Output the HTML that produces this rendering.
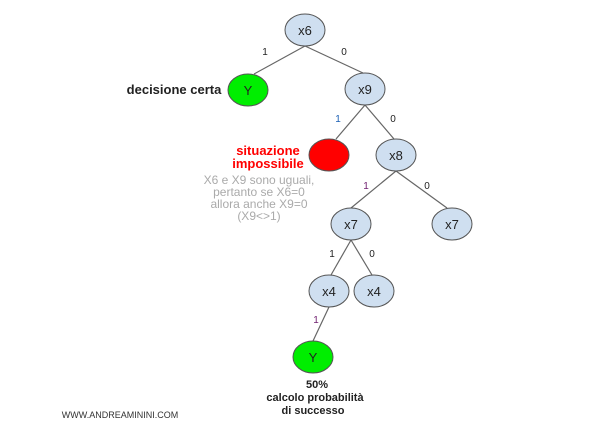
<!DOCTYPE html>
<html><head><meta charset="utf-8"><style>
html,body{margin:0;padding:0;background:#fff;}
svg{display:block;font-family:"Liberation Sans",Arial,sans-serif;}
</style></head><body>
<svg width="606" height="430" viewBox="0 0 606 430">
<g stroke="#666" stroke-width="1.2" fill="none">
<line x1="305" y1="46" x2="254" y2="74"/>
<line x1="305" y1="46" x2="363" y2="73"/>
<line x1="365" y1="105" x2="336" y2="139"/>
<line x1="365" y1="105" x2="394" y2="139"/>
<line x1="396" y1="171" x2="351" y2="208"/>
<line x1="396" y1="171" x2="447" y2="208"/>
<line x1="351" y1="240" x2="331" y2="275"/>
<line x1="351" y1="240" x2="372" y2="275"/>
<line x1="329" y1="307" x2="313" y2="341"/>
</g>
<g stroke="#555" stroke-width="1">
<ellipse cx="305" cy="30" rx="20" ry="16" fill="#cfdff0"/>
<ellipse cx="248" cy="90" rx="20" ry="16" fill="#00ee00"/>
<ellipse cx="365" cy="89" rx="20" ry="16" fill="#cfdff0"/>
<ellipse cx="329" cy="155" rx="20" ry="16" fill="#ff0000"/>
<ellipse cx="396" cy="155" rx="20" ry="16" fill="#cfdff0"/>
<ellipse cx="351" cy="224" rx="20" ry="16" fill="#cfdff0"/>
<ellipse cx="452" cy="224" rx="20" ry="16" fill="#cfdff0"/>
<ellipse cx="329" cy="291" rx="20" ry="16" fill="#cfdff0"/>
<ellipse cx="374" cy="291" rx="20" ry="16" fill="#cfdff0"/>
<ellipse cx="313" cy="357" rx="20" ry="16" fill="#00ee00"/>
</g>
<g font-size="13" fill="#222" text-anchor="middle">
<text x="305" y="35">x6</text>
<text x="248" y="95">Y</text>
<text x="365" y="94">x9</text>
<text x="396" y="160">x8</text>
<text x="351" y="229">x7</text>
<text x="452" y="229">x7</text>
<text x="329" y="296">x4</text>
<text x="374" y="296">x4</text>
<text x="313" y="362">Y</text>
</g>
<g font-size="10" text-anchor="middle">
<text x="265" y="55" fill="#222">1</text>
<text x="344" y="55" fill="#222">0</text>
<text x="338" y="122" fill="#1a5fb4">1</text>
<text x="393" y="122" fill="#222">0</text>
<text x="366" y="189" fill="#702070">1</text>
<text x="427" y="189" fill="#222">0</text>
<text x="332" y="257" fill="#222">1</text>
<text x="372" y="257" fill="#222">0</text>
<text x="316" y="323" fill="#702070">1</text>
</g>
<text x="174" y="94" font-size="13" font-weight="bold" fill="#222" text-anchor="middle">decisione certa</text>
<g font-size="13" font-weight="bold" fill="#ff0000" text-anchor="middle">
<text x="268" y="155">situazione</text>
<text x="268" y="168">impossibile</text>
</g>
<g font-size="12" fill="#aaa" text-anchor="middle">
<text x="259" y="184">X6 e X9 sono uguali,</text>
<text x="259" y="196">pertanto se X6=0</text>
<text x="259" y="208">allora anche X9=0</text>
<text x="259" y="220">(X9&lt;&gt;1)</text>
</g>
<g font-size="11" font-weight="bold" fill="#222" text-anchor="middle">
<text x="317" y="388">50%</text>
<text x="315" y="401">calcolo probabilità</text>
<text x="313" y="414">di successo</text>
</g>
<text x="120" y="418" font-size="9" fill="#333" text-anchor="middle">WWW.ANDREAMININI.COM</text>
</svg>
</body></html>
